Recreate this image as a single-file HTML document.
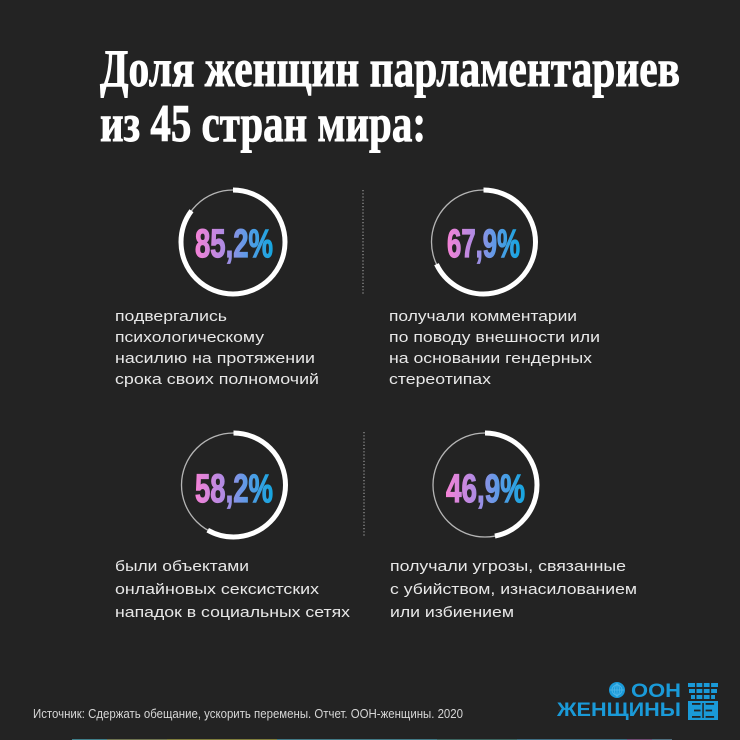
<!DOCTYPE html>
<html>
<head>
<meta charset="utf-8">
<style>
  html,body{margin:0;padding:0;background:#232323;}
  svg{display:block;}
</style>
</head>
<body>
<svg width="740" height="740" viewBox="0 0 740 740" xmlns="http://www.w3.org/2000/svg">
  <defs>
    <linearGradient id="g1" x1="0" y1="0" x2="1" y2="0">
      <stop offset="0" stop-color="#f582d6"/>
      <stop offset="0.35" stop-color="#b48ae2"/>
      <stop offset="0.65" stop-color="#5f9ae6"/>
      <stop offset="1" stop-color="#14a6df"/>
    </linearGradient>
  </defs>
  <rect width="740" height="740" fill="#232323"/>

  <!-- Title -->
  <g font-family="'Liberation Serif','Noto Serif CJK SC',serif" font-weight="bold" fill="#ffffff" stroke="#ffffff" stroke-width="0.9" font-size="53">
    <text x="100" y="86" textLength="580" lengthAdjust="spacingAndGlyphs">Доля женщин парламентариев</text>
    <text x="100" y="141" textLength="326" lengthAdjust="spacingAndGlyphs">из 45 стран мира:</text>
  </g>

  <!-- Dotted dividers -->
  <line x1="363" y1="190" x2="363" y2="294" stroke="#9a9a9a" stroke-width="1.2" stroke-dasharray="1.2 2"/>
  <line x1="364" y1="432" x2="364" y2="536" stroke="#9a9a9a" stroke-width="1.2" stroke-dasharray="1.2 2"/>

  <!-- Rings -->
  <g fill="none">
    <circle cx="233" cy="242" r="52" stroke="#b5b5b5" stroke-width="1.3"/>
    <circle cx="233" cy="242" r="52" stroke="#ffffff" stroke-width="5" stroke-dasharray="278.37 400" transform="rotate(-90 233 242)"/>
    <circle cx="483.5" cy="242" r="52" stroke="#b5b5b5" stroke-width="1.3"/>
    <circle cx="483.5" cy="242" r="52" stroke="#ffffff" stroke-width="5" stroke-dasharray="221.85 400" transform="rotate(-90 483.5 242)"/>
    <circle cx="233.5" cy="485" r="52" stroke="#b5b5b5" stroke-width="1.3"/>
    <circle cx="233.5" cy="485" r="52" stroke="#ffffff" stroke-width="5" stroke-dasharray="190.16 400" transform="rotate(-90 233.5 485)"/>
    <circle cx="485" cy="485" r="52" stroke="#b5b5b5" stroke-width="1.3"/>
    <circle cx="485" cy="485" r="52" stroke="#ffffff" stroke-width="5" stroke-dasharray="153.24 400" transform="rotate(-90 485 485)"/>
  </g>

  <!-- Percent numbers -->
  <g font-family="'Liberation Sans',sans-serif" font-weight="bold" font-size="40" fill="url(#g1)" stroke="url(#g1)" stroke-width="1.2">
    <text x="195" y="257" textLength="78" lengthAdjust="spacingAndGlyphs">85,2%</text>
    <text x="447" y="257" textLength="73" lengthAdjust="spacingAndGlyphs">67,9%</text>
    <text x="195" y="502" textLength="78" lengthAdjust="spacingAndGlyphs">58,2%</text>
    <text x="446" y="502" textLength="79" lengthAdjust="spacingAndGlyphs">46,9%</text>
  </g>

  <!-- Body text -->
  <g font-family="'Liberation Sans','Noto Sans CJK SC',sans-serif" font-size="15" fill="#e8e8e8">
    <text x="115" y="321" textLength="112" lengthAdjust="spacingAndGlyphs">подвергались</text>
    <text x="115" y="342" textLength="149" lengthAdjust="spacingAndGlyphs">психологическому</text>
    <text x="115" y="363" textLength="200" lengthAdjust="spacingAndGlyphs">насилию на протяжении</text>
    <text x="115" y="384" textLength="204" lengthAdjust="spacingAndGlyphs">срока своих полномочий</text>

    <text x="389" y="321" textLength="188" lengthAdjust="spacingAndGlyphs">получали комментарии</text>
    <text x="389" y="342" textLength="211" lengthAdjust="spacingAndGlyphs">по поводу внешности или</text>
    <text x="389" y="363" textLength="203" lengthAdjust="spacingAndGlyphs">на основании гендерных</text>
    <text x="389" y="384" textLength="102" lengthAdjust="spacingAndGlyphs">стереотипах</text>

    <text x="115" y="571" textLength="134" lengthAdjust="spacingAndGlyphs">были объектами</text>
    <text x="115" y="594" textLength="204" lengthAdjust="spacingAndGlyphs">онлайновых сексистских</text>
    <text x="115" y="617" textLength="235" lengthAdjust="spacingAndGlyphs">нападок в социальных сетях</text>

    <text x="390" y="571" textLength="236" lengthAdjust="spacingAndGlyphs">получали угрозы, связанные</text>
    <text x="390" y="594" textLength="247" lengthAdjust="spacingAndGlyphs">с убийством, изнасилованием</text>
    <text x="390" y="617" textLength="124" lengthAdjust="spacingAndGlyphs">или избиением</text>
  </g>

  <!-- Footer source -->
  <text x="33" y="718" font-family="'Liberation Sans',sans-serif" font-size="12.5" fill="#d6d6d6" textLength="430" lengthAdjust="spacingAndGlyphs">Источник: Сдержать обещание, ускорить перемены. Отчет. ООН-женщины. 2020</text>

  <!-- Logo -->
  <g fill="#1a9ad8">
    <circle cx="617" cy="690" r="8"/>
    <g stroke="#4fb6e6" stroke-width="0.8" fill="none">
      <circle cx="617" cy="690" r="5"/>
      <line x1="617" y1="683" x2="617" y2="697"/>
      <line x1="610" y1="690" x2="624" y2="690"/>
      <ellipse cx="617" cy="690" rx="2.5" ry="6"/>
    </g>
    <text x="631" y="697" font-family="'Liberation Sans',sans-serif" font-weight="bold" font-size="19" textLength="50" lengthAdjust="spacingAndGlyphs">ООН</text>
    <text x="557" y="716" font-family="'Liberation Sans',sans-serif" font-weight="bold" font-size="19" textLength="124" lengthAdjust="spacingAndGlyphs">ЖЕНЩИНЫ</text>
    <rect x="688" y="683" width="30" height="4"/>
    <rect x="689" y="689" width="28" height="4"/>
    <rect x="691" y="695" width="24" height="4"/>
    <rect x="688" y="701" width="30" height="19"/>
  </g>
  <g fill="#232323">
    <rect x="695" y="683" width="1.5" height="16"/>
    <rect x="702.3" y="683" width="1.5" height="16"/>
    <rect x="709.6" y="683" width="1.5" height="16"/>
    <rect x="702.3" y="703" width="1.5" height="15"/>
    <rect x="692" y="703" width="8.5" height="1.8"/>
    <rect x="694" y="709.6" width="6.5" height="1.8"/>
    <rect x="692" y="716" width="8.5" height="1.8"/>
    <rect x="705.6" y="703" width="8.5" height="1.8"/>
    <rect x="705.6" y="709.6" width="6.5" height="1.8"/>
    <rect x="705.6" y="716" width="8.5" height="1.8"/>
  </g>

  <!-- bottom thin stripe -->
  <g>
    <rect x="72" y="739" width="35" height="1" fill="#3f7f8a"/>
    <rect x="107" y="739" width="60" height="1" fill="#6f7450"/>
    <rect x="167" y="739" width="110" height="1" fill="#7f7d3c"/>
    <rect x="277" y="739" width="160" height="1" fill="#427a86"/>
    <rect x="437" y="739" width="80" height="1" fill="#3c6560"/>
    <rect x="517" y="739" width="110" height="1" fill="#3f6f84"/>
    <rect x="627" y="739" width="25" height="1" fill="#6e4a72"/>
    <rect x="652" y="739" width="20" height="1" fill="#4f6f80"/>
  </g>
</svg>
</body>
</html>
